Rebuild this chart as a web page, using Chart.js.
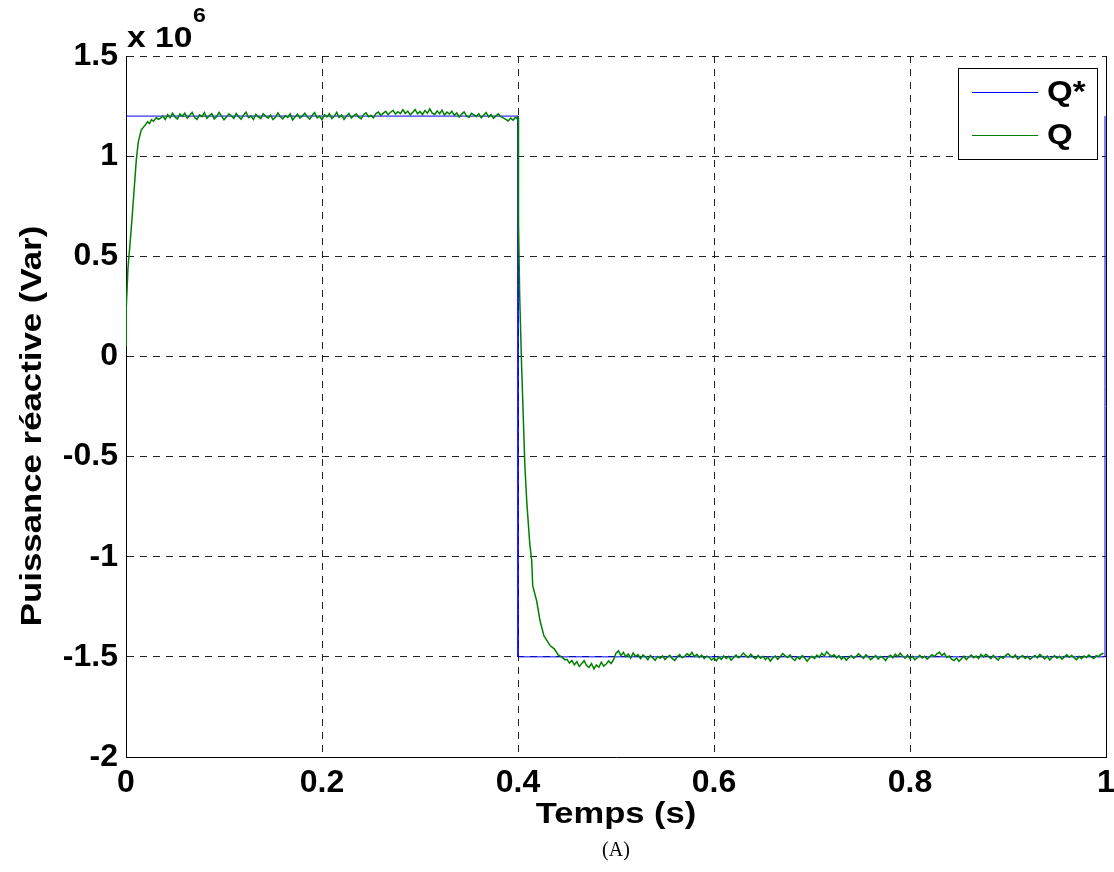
<!DOCTYPE html>
<html lang="fr">
<head>
    <meta charset="UTF-8">
    <title>Puissance réactive</title>
    <script src="https://cdn.jsdelivr.net/npm/chart.js@4.4.1/dist/chart.umd.min.js"></script>
    <style>
        * { margin: 0; padding: 0; box-sizing: border-box; }
        body { background: #fff; width: 1114px; height: 872px; overflow: hidden; }
        canvas { display: block; }
    </style>
</head>
<body>
    <canvas id="qChart" width="1114" height="872"></canvas>

    <script>
        // axes (values in units of 10^6 Var)
        const xTicks = [0, 0.2, 0.4, 0.6, 0.8, 1];
        const yTicks = [-2, -1.5, -1, -0.5, 0, 0.5, 1, 1.5];

        // reference Q*
        const refTime = [0, 0.4, 0.4, 0.999, 0.999];
        const refQ = [1.2, 1.2, -1.5, -1.5, 1.2];

        // measured Q: start-up transient
        const riseTime = [0, 0.0003, 0.002, 0.004, 0.006, 0.0075, 0.009, 0.0105, 0.0125, 0.0155, 0.0195, 0.022, 0.024, 0.026, 0.028, 0.031, 0.033];
        const riseQ = [0.055, 0.245, 0.44, 0.555, 0.68, 0.78, 0.88, 0.98, 1.07, 1.13, 1.155, 1.172, 1.163, 1.182, 1.174, 1.193, 1.184];

        // measured Q: first plateau, sampled every 2.5 ms from t = 0.035 s
        const plateau1Start = 0.035;
        const plateau1Q = [
            1.188, 1.201, 1.183, 1.207, 1.192, 1.214, 1.196, 1.185, 1.210, 1.199,
            1.215, 1.190, 1.204, 1.219, 1.193, 1.184, 1.206, 1.197, 1.217, 1.189,
            1.203, 1.212, 1.186, 1.198, 1.218, 1.200, 1.182, 1.195, 1.211, 1.202,
            1.188, 1.213, 1.197, 1.184, 1.206, 1.220, 1.192, 1.201, 1.183, 1.209,
            1.196, 1.187, 1.212, 1.200, 1.190, 1.205, 1.183, 1.194, 1.216, 1.198,
            1.186, 1.203, 1.193, 1.211, 1.181, 1.197, 1.209, 1.190, 1.201, 1.214,
            1.195, 1.185, 1.204, 1.217, 1.191, 1.200, 1.182, 1.207, 1.196, 1.212,
            1.188, 1.199, 1.219, 1.193, 1.205, 1.184, 1.200, 1.213, 1.190, 1.203,
            1.210, 1.195, 1.186, 1.208, 1.216, 1.197, 1.203, 1.191, 1.213, 1.220,
            1.204, 1.215, 1.224, 1.207, 1.219, 1.229, 1.210, 1.222, 1.212, 1.232,
            1.213, 1.225, 1.206, 1.218, 1.233, 1.211, 1.223, 1.207, 1.228, 1.214,
            1.236, 1.215, 1.208, 1.226, 1.212, 1.229, 1.205, 1.220, 1.210, 1.224,
            1.204, 1.216, 1.196, 1.210, 1.221, 1.201, 1.193, 1.214, 1.206, 1.198,
            1.212, 1.192, 1.204, 1.218, 1.195, 1.208, 1.189, 1.201, 1.211, 1.197,
            1.191, 1.184, 1.176, 1.190, 1.180, 1.194
        ];

        // measured Q: response to the step at 0.4 s
        const dropTime = [0.399, 0.4003, 0.4005, 0.4017, 0.4036, 0.4056, 0.407, 0.409, 0.412, 0.414, 0.415, 0.419, 0.4225, 0.4265, 0.433, 0.437, 0.441, 0.4445, 0.448];
        const dropQ = [1.188, 1.192, 0.67, 0.305, -0.035, -0.335, -0.545, -0.73, -0.935, -1.02, -1.145, -1.22, -1.32, -1.395, -1.445, -1.46, -1.49, -1.5, -1.515];

        // measured Q: second plateau, sampled every 2.5 ms from t = 0.45 s
        const plateau2Start = 0.45;
        const plateau2Q = [
            -1.512, -1.531, -1.518, -1.540, -1.524, -1.548, -1.533, -1.519, -1.543, -1.553,
            -1.534, -1.560, -1.540, -1.552, -1.527, -1.546, -1.536, -1.520, -1.533, -1.514,
            -1.482, -1.470, -1.494, -1.478, -1.499, -1.486, -1.506, -1.480, -1.497, -1.489,
            -1.509, -1.491, -1.500, -1.514, -1.493, -1.505, -1.517, -1.498, -1.507, -1.495,
            -1.513, -1.501, -1.492, -1.509, -1.518, -1.500, -1.489, -1.505, -1.497, -1.485,
            -1.494, -1.478, -1.499, -1.488, -1.503, -1.491, -1.509, -1.496, -1.502, -1.516,
            -1.506, -1.519, -1.500, -1.512, -1.495, -1.508, -1.498, -1.517, -1.503, -1.491,
            -1.505, -1.496, -1.481, -1.494, -1.503, -1.487, -1.500, -1.509, -1.493, -1.507,
            -1.497, -1.514, -1.501, -1.521, -1.505, -1.496, -1.512, -1.500, -1.484, -1.494,
            -1.503, -1.490, -1.508, -1.518, -1.500, -1.511, -1.494, -1.505, -1.522, -1.506,
            -1.497, -1.509, -1.491, -1.502, -1.482, -1.496, -1.474, -1.487, -1.499, -1.490,
            -1.505, -1.494, -1.512, -1.500, -1.517, -1.503, -1.493, -1.507, -1.497, -1.485,
            -1.496, -1.508, -1.490, -1.500, -1.514, -1.503, -1.494, -1.511, -1.498, -1.505,
            -1.518, -1.501, -1.492, -1.505, -1.487, -1.499, -1.482, -1.496, -1.507, -1.491,
            -1.509, -1.498, -1.515, -1.503, -1.492, -1.506, -1.497, -1.511, -1.500, -1.489,
            -1.498, -1.485, -1.476, -1.494, -1.482, -1.503, -1.496, -1.512, -1.518, -1.505,
            -1.522, -1.509, -1.497, -1.514, -1.501, -1.491, -1.505, -1.496, -1.508, -1.488,
            -1.500, -1.487, -1.497, -1.509, -1.493, -1.505, -1.516, -1.498, -1.507, -1.494,
            -1.484, -1.496, -1.503, -1.491, -1.511, -1.500, -1.494, -1.508, -1.497, -1.513,
            -1.502, -1.493, -1.505, -1.488, -1.499, -1.510, -1.496, -1.516, -1.503, -1.494,
            -1.507, -1.497, -1.511, -1.500, -1.490, -1.502, -1.493, -1.505, -1.514, -1.498,
            -1.509, -1.496, -1.503, -1.491, -1.500, -1.508, -1.494, -1.499, -1.487, -1.482
        ];
        const samplePeriod = 0.0025;

        const toPoints = (ts, vs) => ts.map((t, i) => ({ x: t, y: vs[i] }));
        const sampled = (t0, vs) => vs.map((v, i) => ({ x: t0 + i * samplePeriod, y: v }));

        const qPoints = [].concat(
            toPoints(riseTime, riseQ),
            sampled(plateau1Start, plateau1Q),
            toPoints(dropTime, dropQ),
            sampled(plateau2Start, plateau2Q)
        );

        const BLUE = '#0000ff';
        const GREEN = '#008000';
        const FONT = '"Liberation Sans", Arial, sans-serif';

        // chart area fixed to match the figure
        const AREA = { left: 126, top: 56, right: 1106, bottom: 757 };

        // draw text stretched along its baseline (the figure's font is wide)
        function wideText(ctx, text, x, y, stretch) {
            ctx.save();
            ctx.translate(x, y);
            ctx.scale(stretch, 1);
            ctx.fillText(text, 0, 0);
            ctx.restore();
        }

        // titles, exponent, caption, legend and right frame edge
        const decorations = {
            id: 'decorations',
            afterDraw(chart) {
                const ctx = chart.ctx;
                const a = chart.chartArea;
                ctx.save();

                // right frame line (solid)
                ctx.strokeStyle = '#000';
                ctx.lineWidth = 1;
                ctx.setLineDash([]);
                ctx.beginPath();
                ctx.moveTo(a.right + 0.5, a.top);
                ctx.lineTo(a.right + 0.5, a.bottom);
                ctx.stroke();

                ctx.fillStyle = '#000';

                // y title
                ctx.save();
                ctx.translate(33, 426);
                ctx.rotate(-Math.PI / 2);
                ctx.font = 'bold 29px ' + FONT;
                ctx.textAlign = 'center';
                ctx.textBaseline = 'middle';
                wideText(ctx, 'Puissance réactive (Var)', 0, 0, 1.2);
                ctx.restore();

                // x title
                ctx.font = 'bold 30px ' + FONT;
                ctx.textAlign = 'center';
                ctx.textBaseline = 'middle';
                wideText(ctx, 'Temps (s)', (a.left + a.right) / 2, 815, 1.15);

                // caption
                ctx.font = '20px "Liberation Serif", "Times New Roman", serif';
                ctx.fillText('(A)', (a.left + a.right) / 2, 851);

                // exponent
                ctx.textAlign = 'left';
                ctx.textBaseline = 'alphabetic';
                ctx.font = 'bold 30px ' + FONT;
                wideText(ctx, 'x 10', 127, 47, 1.12);
                ctx.font = 'bold 21px ' + FONT;
                wideText(ctx, '6', 193, 22, 1.1);

                // legend
                const lx = 958, ly = 68, lw = 139, lh = 91;
                ctx.fillStyle = '#fff';
                ctx.fillRect(lx, ly, lw, lh);
                ctx.strokeStyle = '#000';
                ctx.strokeRect(lx + 0.5, ly + 0.5, lw, lh);
                const entries = [
                    { label: 'Q*', color: BLUE, y: 92 },
                    { label: 'Q', color: GREEN, y: 135 }
                ];
                entries.forEach(e => {
                    ctx.strokeStyle = e.color;
                    ctx.beginPath();
                    ctx.moveTo(972, e.y + 0.5);
                    ctx.lineTo(1038, e.y + 0.5);
                    ctx.stroke();
                    ctx.fillStyle = '#000';
                    ctx.font = 'bold 30px ' + FONT;
                    ctx.textBaseline = 'middle';
                    wideText(ctx, e.label, 1047, e.y + 1, 1.1);
                });

                ctx.restore();
            }
        };

        const gridStyle = {
            color: '#222',
            lineWidth: 1,
            drawTicks: false,
            tickLength: 0
        };
        const borderStyle = { display: true, color: '#000', width: 1, dash: [7, 6] };
        const tickFont = { family: FONT, size: 32, weight: 'bold' };

        new Chart(document.getElementById('qChart'), {
            type: 'scatter',
            data: {
                datasets: [
                    {
                        label: 'Q',
                        data: qPoints,
                        showLine: true,
                        borderColor: GREEN,
                        borderWidth: 1.5,
                        pointRadius: 0,
                        tension: 0
                    },
                    {
                        label: 'Q*',
                        data: toPoints(refTime, refQ),
                        showLine: true,
                        borderColor: BLUE,
                        borderWidth: 1,
                        pointRadius: 0,
                        tension: 0
                    }
                ]
            },
            options: {
                responsive: false,
                animation: false,
                devicePixelRatio: 1,
                layout: { padding: { left: 0, top: AREA.top, right: 1114 - AREA.right, bottom: 0 } },
                plugins: {
                    legend: { display: false },
                    tooltip: { enabled: false }
                },
                scales: {
                    x: {
                        type: 'linear',
                        min: 0,
                        max: 1,
                        afterBuildTicks: s => { s.ticks = xTicks.map(v => ({ value: v })); },
                        afterFit: s => {
                            s.height = 872 - AREA.bottom;
                            s.paddingLeft = 0;
                            s.paddingRight = 0;
                        },
                        grid: gridStyle,
                        border: borderStyle,
                        ticks: {
                            autoSkip: false,
                            maxRotation: 0,
                            padding: 7,
                            color: '#000',
                            font: tickFont,
                            callback: v => String(v)
                        }
                    },
                    y: {
                        min: -2,
                        max: 1.5,
                        afterBuildTicks: s => { s.ticks = yTicks.map(v => ({ value: v })); },
                        afterFit: s => {
                            s.width = AREA.left;
                            s.paddingTop = 0;
                            s.paddingBottom = 0;
                        },
                        grid: gridStyle,
                        border: borderStyle,
                        ticks: {
                            padding: 8,
                            color: '#000',
                            font: tickFont,
                            callback: v => String(v)
                        }
                    }
                }
            },
            plugins: [decorations]
        });
    </script>
</body>
</html>
